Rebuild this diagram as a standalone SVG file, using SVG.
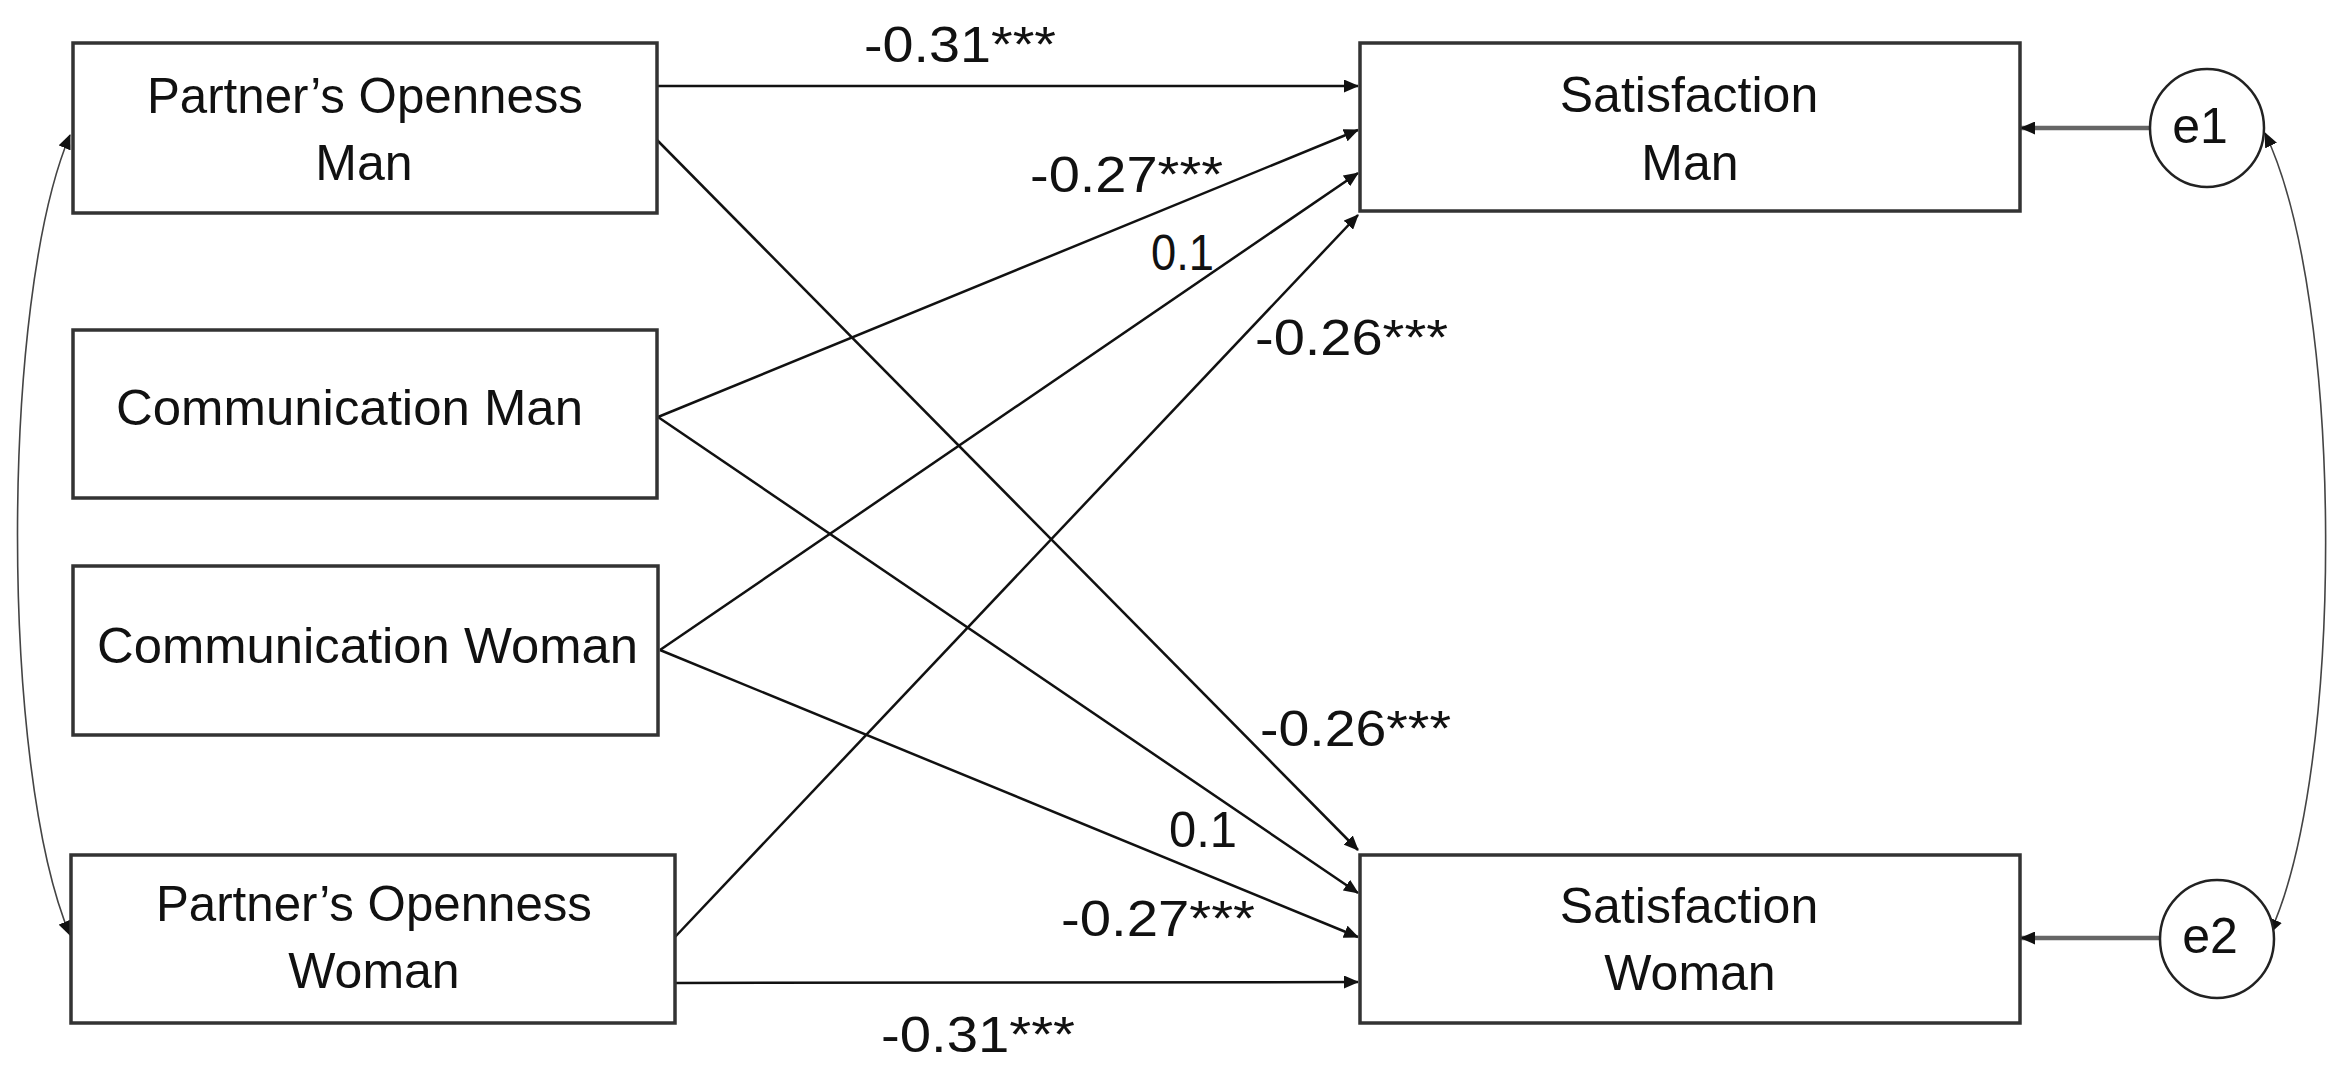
<svg xmlns="http://www.w3.org/2000/svg" width="2345" height="1073" viewBox="0 0 2345 1073">
<style>
.box{fill:#fff;stroke:#333;stroke-width:3.5}
.lat{fill:#fff;stroke:#222;stroke-width:2.5}
.t{font-family:"Liberation Sans",Arial,sans-serif;font-size:50px;fill:#111}
.c{text-anchor:middle}
.ln{fill:none;stroke:#111;stroke-width:2.5;marker-end:url(#ah)}
.err{fill:none;stroke:#666;stroke-width:4.5;marker-end:url(#ah)}
.cov{fill:none;stroke:#444;stroke-width:1.6;marker-start:url(#ahs);marker-end:url(#ah)}
</style>
<defs>
<marker id="ah" markerUnits="userSpaceOnUse" markerWidth="15" markerHeight="13" refX="14" refY="6.5" orient="auto"><path d="M0,0 L15,6.5 L0,13 z" fill="#111"/></marker>
<marker id="ahs" markerUnits="userSpaceOnUse" markerWidth="15" markerHeight="13" refX="14" refY="6.5" orient="auto-start-reverse"><path d="M0,0 L15,6.5 L0,13 z" fill="#111"/></marker>
</defs>

<g id="connectors">
<line class="ln" x1="657" y1="86" x2="1358" y2="86"/>
<line class="ln" x1="658" y1="417" x2="1358" y2="130"/>
<line class="ln" x1="660" y1="650" x2="1358" y2="173"/>
<line class="ln" x1="675" y1="937" x2="1358" y2="215"/>
<line class="ln" x1="657" y1="140" x2="1358" y2="850"/>
<line class="ln" x1="658" y1="417" x2="1358" y2="893"/>
<line class="ln" x1="660" y1="650" x2="1358" y2="937"/>
<line class="ln" x1="675" y1="983" x2="1358" y2="982"/>
<line class="err" x1="2150" y1="128" x2="2021" y2="128"/>
<line class="err" x1="2160" y1="938" x2="2021" y2="938"/>
<path class="cov" d="M70,135 C0,300 0,770 70,935"/>
<path class="cov" d="M2265,133 C2345,300 2345,770 2270,933"/>
</g>

<g id="labels">
<text class="t" x="864" y="62" textLength="192" lengthAdjust="spacingAndGlyphs">-0.31***</text>
<text class="t" x="1030" y="192" textLength="193" lengthAdjust="spacingAndGlyphs">-0.27***</text>
<text class="t" x="1151" y="270" textLength="63" lengthAdjust="spacingAndGlyphs">0.1</text>
<text class="t" x="1255" y="355" textLength="193" lengthAdjust="spacingAndGlyphs">-0.26***</text>
<text class="t" x="1260" y="746" textLength="191" lengthAdjust="spacingAndGlyphs">-0.26***</text>
<text class="t" x="1169" y="847" textLength="68" lengthAdjust="spacingAndGlyphs">0.1</text>
<text class="t" x="1061" y="936" textLength="194" lengthAdjust="spacingAndGlyphs">-0.27***</text>
<text class="t" x="881" y="1052" textLength="194" lengthAdjust="spacingAndGlyphs">-0.31***</text>
</g>

<g id="po_man">
<rect class="box" x="73" y="43" width="584" height="170"/>
<text class="t" x="147" y="113" textLength="436" lengthAdjust="spacingAndGlyphs">Partner’s Openness</text>
<text class="t c" x="364" y="180">Man</text>
</g>
<g id="comm_man">
<rect class="box" x="73" y="330" width="584" height="168"/>
<text class="t" x="116" y="425" textLength="467" lengthAdjust="spacingAndGlyphs">Communication Man</text>
</g>
<g id="comm_woman">
<rect class="box" x="73" y="566" width="585" height="169"/>
<text class="t" x="97" y="663" textLength="541" lengthAdjust="spacingAndGlyphs">Communication Woman</text>
</g>
<g id="po_woman">
<rect class="box" x="71" y="855" width="604" height="168"/>
<text class="t" x="156" y="921" textLength="436" lengthAdjust="spacingAndGlyphs">Partner’s Openness</text>
<text class="t c" x="374" y="988">Woman</text>
</g>
<g id="sat_man">
<rect class="box" x="1360" y="43" width="660" height="168"/>
<text class="t c" x="1689" y="112">Satisfaction</text>
<text class="t c" x="1690" y="180">Man</text>
</g>
<g id="sat_woman">
<rect class="box" x="1360" y="855" width="660" height="168"/>
<text class="t c" x="1689" y="923">Satisfaction</text>
<text class="t c" x="1690" y="990">Woman</text>
</g>
<g id="e1">
<ellipse class="lat" cx="2207" cy="128" rx="57" ry="59"/>
<text class="t c" x="2200" y="143">e1</text>
</g>
<g id="e2">
<ellipse class="lat" cx="2217" cy="939" rx="57" ry="59"/>
<text class="t c" x="2210" y="953">e2</text>
</g>
</svg>
